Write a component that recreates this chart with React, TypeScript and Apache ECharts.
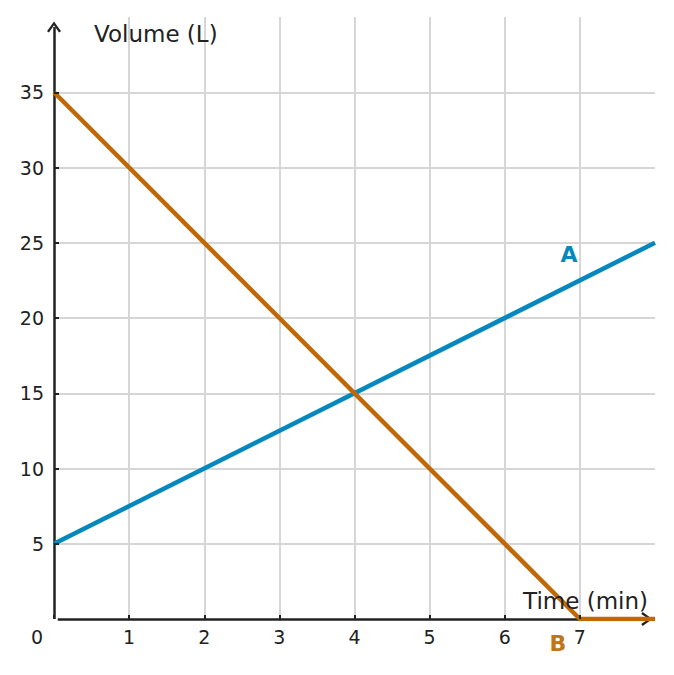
import React, { useEffect, useRef } from "react";
import * as echarts from "echarts";

// Time (min) / Volume (L) for the two tanks
const seriesA: [number, number][] = [
  [0, 5],
  [8, 25],
];
const seriesB: [number, number][] = [
  [0, 35],
  [7, 0],
  [8, 0],
];
const xGrid = [1, 2, 3, 4, 5, 6, 7];
const yGrid = [5, 10, 15, 20, 25, 30, 35];

// where the drawn axis arrows stop (axis units)
const X_ARROW_END = 7.89;
const Y_ARROW_END = 39.33;

const BLUE = "#0588bb";
const ORANGE = "#bf6805";
const INK = "#222222";
const GRID = "#d6d6d6";
const FONT = "DejaVu Sans";

// open arrow head, tip pointing up
const chevron = "path://M5,0 L10,8 L8.6,9.2 L5,3 L1.4,9.2 L0,8 Z";

export default function App() {
  const ref = useRef<HTMLDivElement>(null);

  useEffect(() => {
    if (!ref.current) return;
    const chart = echarts.init(ref.current, null, { renderer: "svg" });
    chart.setOption({
      animation: false,
      backgroundColor: "#ffffff",
      textStyle: { fontFamily: FONT },
      grid: { left: 54, right: 19, top: 17, bottom: 56, containLabel: false },
      xAxis: {
        type: "value",
        min: 0,
        max: 8,
        interval: 1,
        z: 5,
        name: "Time (min)",
        nameLocation: "end",
        nameGap: -7,
        nameTextStyle: {
          color: INK,
          fontSize: 23,
          fontFamily: FONT,
          align: "right",
          verticalAlign: "bottom",
          padding: [0, 0, 7, 0],
        },
        axisLine: { show: false, onZero: false },
        axisTick: { show: true, inside: true, length: 4, lineStyle: { color: INK, width: 2 } },
        splitLine: { show: false },
        axisLabel: {
          show: true,
          color: INK,
          fontSize: 19,
          fontFamily: FONT,
          margin: 8,
          showMaxLabel: false,
          formatter: (v: number) => (v === 0 ? "{z|0}" : String(v)),
          rich: { z: { padding: [0, 34, 0, 0], fontSize: 19, fontFamily: FONT, color: INK } },
        },
      },
      yAxis: {
        type: "value",
        min: 0,
        max: 40,
        interval: 5,
        z: 5,
        name: "Volume (L)",
        nameLocation: "end",
        nameGap: -17,
        nameTextStyle: {
          color: INK,
          fontSize: 23,
          fontFamily: FONT,
          align: "left",
          verticalAlign: "middle",
          padding: [0, 0, 0, 40],
        },
        axisLine: { show: false, onZero: false },
        axisTick: { show: true, inside: true, length: 5, lineStyle: { color: INK, width: 2 } },
        splitLine: { show: false },
        axisLabel: {
          show: true,
          color: INK,
          fontSize: 19,
          fontFamily: FONT,
          margin: 10,
          showMinLabel: false,
          showMaxLabel: false,
        },
      },
      series: [
        {
          // grid lines
          type: "line",
          data: [],
          silent: true,
          z: 1,
          markLine: {
            silent: true,
            z: 1,
            symbol: "none",
            animation: false,
            label: { show: false },
            lineStyle: { color: GRID, width: 2, type: "solid" },
            data: [
              ...xGrid.map((v) => ({ xAxis: v })),
              ...yGrid.map((v) => ({ yAxis: v })),
            ],
          },
        },
        {
          // axis lines with arrow heads
          type: "line",
          data: [],
          silent: true,
          z: 2,
          markLine: {
            silent: true,
            z: 2,
            symbol: ["none", chevron],
            symbolSize: [14, 11],
            animation: false,
            label: { show: false },
            lineStyle: { color: INK, width: 2.5, type: "solid" },
            data: [
              [{ coord: [0, 0] }, { coord: [0, Y_ARROW_END] }],
              [{ coord: [0.05, 0] }, { coord: [X_ARROW_END, 0] }],
            ],
          },
        },
        {
          name: "A",
          type: "line",
          z: 3,
          data: seriesA,
          showSymbol: false,
          symbol: "none",
          lineStyle: { color: BLUE, width: 4.5 },
          markPoint: {
            z: 6,
            symbol: "circle",
            symbolSize: 1,
            itemStyle: { color: "rgba(0,0,0,0)" },
            label: {
              show: true,
              formatter: "A",
              position: "inside",
              offset: [-86, 12],
              color: BLUE,
              fontSize: 22,
              fontWeight: "bold",
              fontFamily: FONT,
              textBorderColor: "#ffffff",
              textBorderWidth: 3,
            },
            data: [{ coord: seriesA[seriesA.length - 1] }],
          },
        },
        {
          name: "B",
          type: "line",
          z: 3,
          data: seriesB,
          showSymbol: false,
          symbol: "none",
          lineStyle: { color: ORANGE, width: 4.5 },
          markPoint: {
            z: 6,
            symbol: "circle",
            symbolSize: 1,
            itemStyle: { color: "rgba(0,0,0,0)" },
            label: {
              show: true,
              formatter: "B",
              position: "inside",
              offset: [-22, 24],
              color: "#c27514",
              fontSize: 22,
              fontWeight: "bold",
              fontFamily: FONT,
              textBorderColor: "#ffffff",
              textBorderWidth: 3,
            },
            data: [{ coord: seriesB[1] }],
          },
        },
      ],
    });
    return () => chart.dispose();
  }, []);

  return <div ref={ref} style={{ width: 674, height: 675, position: "fixed", left: 0, top: 0 }} />;
}
